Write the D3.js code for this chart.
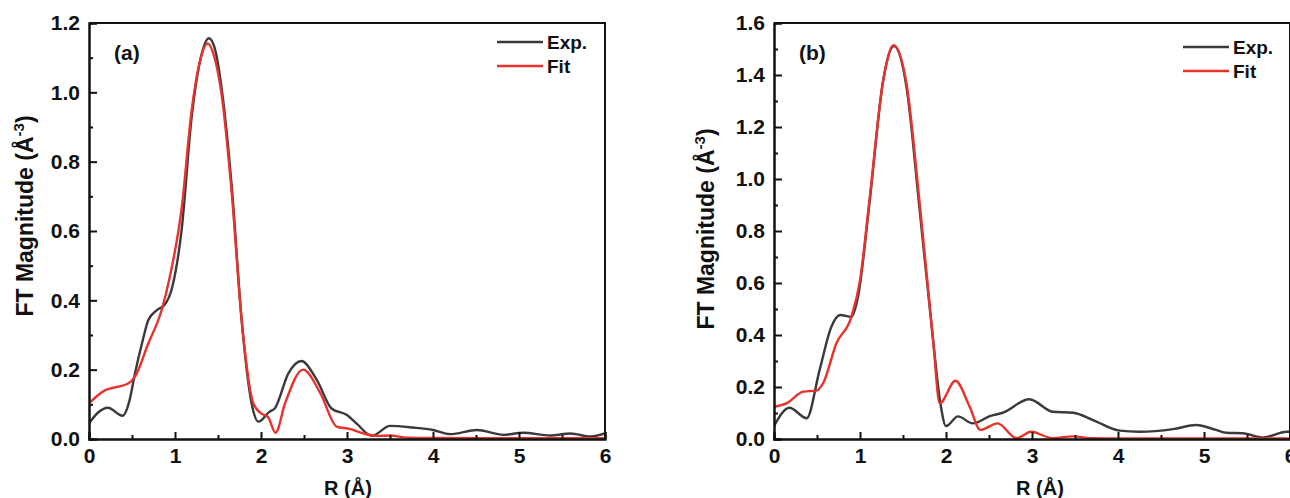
<!DOCTYPE html>
<html>
<head>
<meta charset="utf-8">
<script src="https://cdn.jsdelivr.net/npm/d3@7"></script>
<style>
body { margin: 0; background: #fff; }
svg { display: block; }
text { font-family: "Liberation Sans", Arial, sans-serif; font-weight: bold; fill: #111; }
</style>
</head>
<body>
<svg id="chart"></svg>
<script>
// panel (a) data
var rExpA = [0, 0.1, 0.22, 0.39, 0.47, 0.535, 0.62, 0.69, 0.79, 0.88, 0.97, 1.08, 1.19, 1.3, 1.395, 1.47, 1.54, 1.66, 1.775, 1.89, 1.97, 2.1, 2.16, 2.32, 2.47, 2.65, 2.82, 3.0, 3.11, 3.29, 3.5, 3.77, 4.0, 4.2, 4.51, 4.82, 5.05, 5.36, 5.6, 5.83, 6.0];
var expA = [0.045, 0.075, 0.09, 0.067, 0.11, 0.19, 0.28, 0.343, 0.372, 0.387, 0.44, 0.61, 0.92, 1.10, 1.156, 1.12, 1.016, 0.728, 0.343, 0.104, 0.05, 0.079, 0.088, 0.19, 0.225, 0.17, 0.088, 0.069, 0.045, 0.009, 0.038, 0.033, 0.026, 0.014, 0.026, 0.012, 0.018, 0.01, 0.016, 0.007, 0.016];
var rFitA = [0, 0.19, 0.34, 0.46, 0.535, 0.69, 0.845, 0.94, 1.08, 1.19, 1.29, 1.38, 1.46, 1.54, 1.66, 1.775, 1.91, 2.0, 2.08, 2.17, 2.28, 2.49, 2.69, 2.88, 3.03, 3.19, 3.35, 3.5, 3.7, 4.0, 5.0, 6.0];
var fitA = [0.103, 0.141, 0.151, 0.161, 0.18, 0.276, 0.372, 0.468, 0.67, 0.94, 1.09, 1.141, 1.10, 0.997, 0.709, 0.343, 0.103, 0.074, 0.064, 0.018, 0.103, 0.2, 0.132, 0.036, 0.029, 0.016, 0.009, 0.01, 0.004, 0.003, 0.002, 0.002];

// panel (b) data
var rExpB = [0, 0.18, 0.38, 0.53, 0.667, 0.77, 0.9, 0.977, 1.11, 1.27, 1.395, 1.54, 1.69, 1.85, 1.935, 2.0, 2.14, 2.31, 2.51, 2.66, 2.97, 3.24, 3.48, 3.71, 4.02, 4.25, 4.64, 4.91, 5.14, 5.26, 5.45, 5.69, 5.96, 6.0];
var expB = [0.05, 0.12, 0.08, 0.265, 0.432, 0.477, 0.47, 0.547, 0.906, 1.38, 1.511, 1.355, 0.893, 0.38, 0.137, 0.05, 0.087, 0.06, 0.088, 0.101, 0.153, 0.105, 0.101, 0.073, 0.032, 0.028, 0.038, 0.054, 0.035, 0.024, 0.022, 0.006, 0.028, 0.028];
var rFitB = [0, 0.144, 0.34, 0.49, 0.57, 0.726, 0.9, 1.0, 1.11, 1.27, 1.39, 1.54, 1.69, 1.85, 1.927, 2.11, 2.275, 2.4, 2.6, 2.82, 2.99, 3.24, 3.48, 3.7, 4.0, 5.0, 6.0];
var fitB = [0.124, 0.137, 0.182, 0.186, 0.214, 0.368, 0.47, 0.61, 0.919, 1.38, 1.515, 1.368, 0.919, 0.38, 0.137, 0.224, 0.124, 0.035, 0.06, 0.003, 0.028, 0.003, 0.01, 0.003, 0.002, 0.002, 0.002];

var xTicks = [0, 1, 2, 3, 4, 5, 6];
var xMinor = [0.5, 1.5, 2.5, 3.5, 4.5, 5.5];
var yTicksA = [0, 0.2, 0.4, 0.6, 0.8, 1.0, 1.2];
var yMinorA = [0.1, 0.3, 0.5, 0.7, 0.9, 1.1];
var yTicksB = [0, 0.2, 0.4, 0.6, 0.8, 1.0, 1.2, 1.4, 1.6];
var yMinorB = [0.1, 0.3, 0.5, 0.7, 0.9, 1.1, 1.3, 1.5];
var seriesNames = ["Exp.", "Fit"];
var colors = ["#3a3a3a", "#e8322b"];

var svgWidth = 1290, svgHeight = 498;
var svg = d3.select('#chart')
    .attr('width', svgWidth)
    .attr('height', svgHeight);

function zip(xs, ys) {
    return xs.map(function(d, i) { return { r: d, v: ys[i] }; });
}

function drawPanel(opt) {
    var x = d3.scaleLinear().domain([0, 6]).range([opt.left, opt.right]);
    var y = d3.scaleLinear().domain([0, opt.yMax]).range([439, 23]);
    var g = svg.append('g');

    var clipId = 'clip' + opt.tag;
    svg.append('clipPath').attr('id', clipId)
        .append('rect')
        .attr('x', opt.left).attr('y', 23)
        .attr('width', opt.right - opt.left).attr('height', 416);

    var line = d3.line()
        .x(function(d) { return x(d.r); })
        .y(function(d) { return y(d.v); })
        .curve(d3.curveMonotoneX);

    [zip(opt.rExp, opt.exp), zip(opt.rFit, opt.fit)].forEach(function(s, i) {
        g.append('path')
            .datum(s)
            .attr('clip-path', 'url(#' + clipId + ')')
            .attr('fill', 'none')
            .attr('stroke', colors[i])
            .attr('stroke-width', 2.4)
            .attr('stroke-linejoin', 'round')
            .attr('d', line);
    });

    // axes
    g.append('g').attr('transform', 'translate(0,439)')
        .call(d3.axisBottom(x).tickValues(xTicks).tickSize(-7).tickPadding(9).tickFormat(d3.format('d')));
    g.append('g').attr('transform', 'translate(0,439)')
        .call(d3.axisBottom(x).tickValues(xMinor).tickSize(-4).tickFormat(''));
    g.append('g').attr('transform', 'translate(' + opt.left + ',0)')
        .call(d3.axisLeft(y).tickValues(opt.yTicks).tickSize(-8).tickPadding(9).tickFormat(d3.format('.1f')));
    g.append('g').attr('transform', 'translate(' + opt.left + ',0)')
        .call(d3.axisLeft(y).tickValues(opt.yMinor).tickSize(-4).tickFormat(''));

    g.selectAll('.domain').attr('stroke', '#111').attr('stroke-width', 2);
    g.selectAll('.tick line').attr('stroke', '#111').attr('stroke-width', 2);
    g.selectAll('.tick text')
        .attr('fill', '#111')
        .style('font-family', '"Liberation Sans", Arial, sans-serif')
        .style('font-weight', 'bold')
        .style('font-size', '21px');

    // frame top + right
    g.append('path')
        .attr('d', 'M' + opt.left + ',23H' + opt.right + 'V439')
        .attr('fill', 'none').attr('stroke', '#111').attr('stroke-width', 2);

    // panel label
    g.append('text').attr('x', opt.left + 25).attr('y', 60)
        .style('font-size', '21px').text(opt.label);

    // legend
    seriesNames.forEach(function(n, i) {
        var ly = opt.legY + i * 24;
        g.append('line')
            .attr('x1', opt.legX).attr('x2', opt.legX + 46)
            .attr('y1', ly).attr('y2', ly)
            .attr('stroke', colors[i]).attr('stroke-width', 2.5);
        g.append('text').attr('x', opt.legX + 50).attr('y', ly + 7)
            .style('font-size', '19px').text(n);
    });

    // axis titles
    g.append('text')
        .attr('transform', 'translate(' + opt.yTitleX + ',' + opt.yTitleY + ') rotate(-90)')
        .attr('text-anchor', 'middle')
        .style('font-size', '23px')
        .html('FT Magnitude (Å<tspan dy="-9" font-size="15">-3</tspan><tspan dy="9">)</tspan>');
    g.append('text')
        .attr('x', opt.xTitleX).attr('y', 495)
        .attr('text-anchor', 'middle')
        .style('font-size', '20px')
        .text('R (Å)');
}

drawPanel({
    tag: 'a', left: 89, right: 605, yMax: 1.2,
    yTicks: yTicksA, yMinor: yMinorA,
    rExp: rExpA, exp: expA, rFit: rFitA, fit: fitA,
    label: '(a)', legX: 497, legY: 42,
    yTitleX: 33, yTitleY: 216, xTitleX: 348
});

drawPanel({
    tag: 'b', left: 774, right: 1290, yMax: 1.6,
    yTicks: yTicksB, yMinor: yMinorB,
    rExp: rExpB, exp: expB, rFit: rFitB, fit: fitB,
    label: '(b)', legX: 1183, legY: 47,
    yTitleX: 714, yTitleY: 229, xTitleX: 1040
});
</script>
</body>
</html>
